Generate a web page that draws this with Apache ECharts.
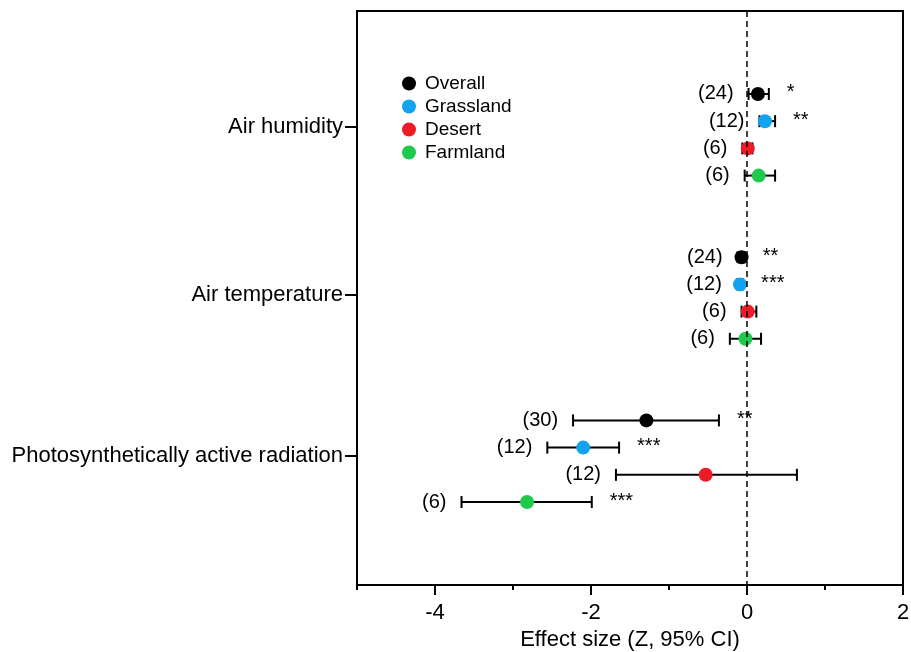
<!DOCTYPE html>
<html>
<head>
<meta charset="utf-8">
<script src="https://cdn.jsdelivr.net/npm/echarts@6/dist/echarts.min.js"></script>
<style>
  html, body { margin: 0; padding: 0; background: #fff; }
  #main { width: 911px; height: 652px; }
</style>
</head>
<body>
<div id="main"></div>
<script>
// 变量与生境
const variables = ['Air humidity', 'Air temperature', 'Photosynthetically active radiation'];
const habitats = ['Overall', 'Grassland', 'Desert', 'Farmland'];
const colors = ['#000000', '#12a2ee', '#ec1c26', '#1fc94c'];

// y 方向的行号（每个变量 4 行）
const humidityRows = [3, 4, 5, 6];
const temperatureRows = [9, 10, 11, 12];
const parRows = [15, 16, 17, 18];
const variableTicks = [4.21, 10.39, 16.31];

// Air humidity
const humidityMean = [0.14, 0.23, 0.01, 0.15];
const humidityLo = [0.02, 0.16, -0.06, -0.03];
const humidityHi = [0.28, 0.36, 0.07, 0.36];
const humidityN = ['(24)', '(12)', '(6)', '(6)'];
const humiditySig = ['*', '**', '', ''];

// Air temperature
const temperatureMean = [-0.07, -0.09, 0.01, -0.02];
const temperatureLo = [-0.12, -0.13, -0.07, -0.22];
const temperatureHi = [-0.03, -0.05, 0.12, 0.18];
const temperatureN = ['(24)', '(12)', '(6)', '(6)'];
const temperatureSig = ['**', '***', '', ''];

// Photosynthetically active radiation
const parMean = [-1.29, -2.10, -0.53, -2.82];
const parLo = [-2.23, -2.56, -1.68, -3.66];
const parHi = [-0.36, -1.64, 0.64, -1.99];
const parN = ['(30)', '(12)', '(12)', '(6)'];
const parSig = ['**', '***', '', '***'];

const xTicks = [-4, -2, 0, 2];

const FONT = 'Liberation Sans, Arial, sans-serif';

const blocks = [
    [humidityRows, humidityMean, humidityLo, humidityHi, humidityN, humiditySig],
    [temperatureRows, temperatureMean, temperatureLo, temperatureHi, temperatureN, temperatureSig],
    [parRows, parMean, parLo, parHi, parN, parSig]
];

let series = [];
habitats.forEach(function (h, k) {
    let errData = [];
    let ptData = [];
    blocks.forEach(function (b) {
        errData.push([b[2][k], b[3][k], b[0][k], b[4][k], b[5][k]]);
        ptData.push([b[1][k], b[0][k]]);
    });
    // 误差线 + 标注
    series.push({
        type: 'custom',
        name: h,
        z: 2,
        silent: true,
        encode: { x: [0, 1], y: 2 },
        data: errData,
        renderItem: function (params, api) {
            let p1 = api.coord([api.value(0), api.value(2)]);
            let p2 = api.coord([api.value(1), api.value(2)]);
            let cap = 6;
            let ls = { stroke: '#000', lineWidth: 2 };
            let item = errData[params.dataIndex];
            return {
                type: 'group',
                children: [
                    { type: 'line', shape: { x1: p1[0], y1: p1[1], x2: p2[0], y2: p2[1] }, style: ls },
                    { type: 'line', shape: { x1: p1[0], y1: p1[1] - cap, x2: p1[0], y2: p1[1] + cap }, style: ls },
                    { type: 'line', shape: { x1: p2[0], y1: p2[1] - cap, x2: p2[0], y2: p2[1] + cap }, style: ls },
                    { type: 'text', style: { text: item[3], x: p1[0] - 15, y: p1[1], align: 'right', verticalAlign: 'middle', fontSize: 20, fontFamily: FONT, fill: '#000' } },
                    { type: 'text', style: { text: item[4], x: p2[0] + 18, y: p2[1] - 1, align: 'left', verticalAlign: 'middle', fontSize: 20, fontFamily: FONT, fill: '#000' } }
                ]
            };
        }
    });
    series.push({
        type: 'scatter',
        name: h,
        z: 3,
        symbol: 'circle',
        symbolSize: 14,
        itemStyle: { color: colors[k], opacity: 1 },
        data: ptData,
        markLine: k === 0 ? {
            silent: true,
            symbol: ['none', 'none'],
            label: { show: false },
            lineStyle: { color: '#000', width: 1.5, type: [6, 4] },
            data: [{ xAxis: 0 }]
        } : undefined
    });
});

let myChart = echarts.init(document.getElementById('main'));
myChart.setOption({
    animation: false,
    backgroundColor: '#fff',
    color: colors,
    grid: {
        left: 357, right: 8, top: 11, bottom: 67,
        outerBoundsMode: 'none',
        containLabel: false,
        show: true, borderColor: '#000', borderWidth: 2
    },
    legend: {
        orient: 'vertical',
        left: 397,
        top: 69,
        icon: 'circle',
        itemWidth: 22,
        itemHeight: 14,
        itemGap: 4,
        data: habitats,
        textStyle: { fontSize: 19, fontFamily: FONT, color: '#000' }
    },
    xAxis: [{
        type: 'value',
        min: -5,
        max: 2,
        name: 'Effect size (Z, 95% CI)',
        nameLocation: 'middle',
        nameGap: 44,
        nameTextStyle: { fontSize: 22, fontFamily: FONT, color: '#000' },
        axisLine: { show: true, onZero: false, lineStyle: { color: '#000', width: 2 } },
        axisTick: { show: true, length: 10, customValues: xTicks, lineStyle: { color: '#000', width: 2 } },
        axisLabel: { customValues: xTicks, margin: 17, fontSize: 22, fontFamily: FONT, color: '#000' },
        splitLine: { show: false }
    }, {
        type: 'value',
        min: -5,
        max: 2,
        interval: 1,
        position: 'bottom',
        axisLine: { show: false, onZero: false },
        axisTick: { show: true, length: 5, lineStyle: { color: '#000', width: 2 } },
        axisLabel: { show: false },
        splitLine: { show: false }
    }],
    yAxis: {
        type: 'value',
        inverse: true,
        min: -0.05,
        max: 21.05,
        axisLine: { show: true, onZero: false, lineStyle: { color: '#000', width: 2 } },
        axisTick: { show: true, length: 12, customValues: variableTicks, lineStyle: { color: '#000', width: 2 } },
        axisLabel: {
            customValues: variableTicks,
            margin: 14,
            fontSize: 22,
            fontFamily: FONT,
            color: '#000',
            formatter: function (v) {
                let best = 0;
                variableTicks.forEach(function (t, i) {
                    if (Math.abs(t - v) < Math.abs(variableTicks[best] - v)) best = i;
                });
                return variables[best];
            }
        },
        splitLine: { show: false }
    },
    series: series
});
</script>
</body>
</html>
